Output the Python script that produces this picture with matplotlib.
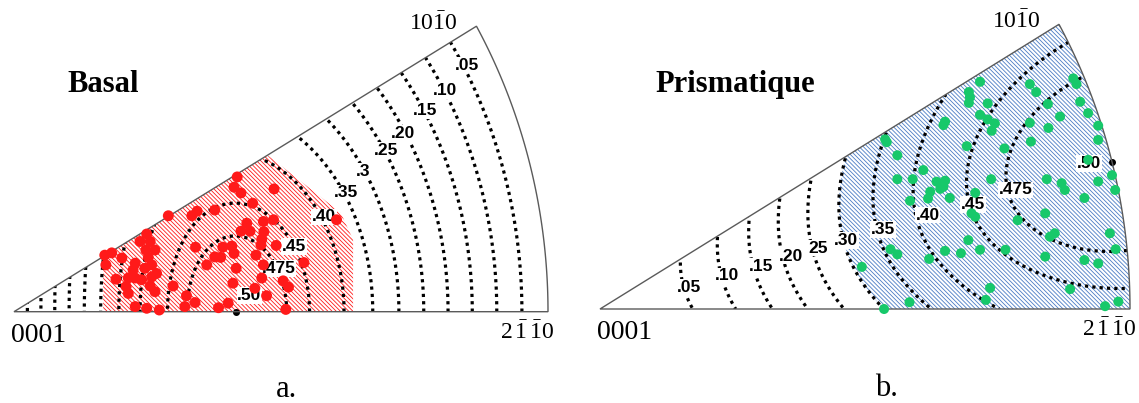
import numpy as np
import matplotlib
matplotlib.use("Agg")
import matplotlib.pyplot as plt
from matplotlib.patches import Polygon, PathPatch
from matplotlib.path import Path

plt.rcParams['mathtext.fontset'] = 'custom'
plt.rcParams['mathtext.rm'] = 'Liberation Serif'
plt.rcParams['mathtext.it'] = 'Liberation Serif:italic'
plt.rcParams['mathtext.bf'] = 'Liberation Serif:bold'
plt.rcParams['hatch.linewidth'] = 0.6

# ---------------- data ----------------
# Schmid factor contour levels
basal_levels = [0.05, 0.10, 0.15, 0.20, 0.25, 0.30, 0.35, 0.40, 0.45, 0.475]
prism_levels = [0.05, 0.10, 0.15, 0.20, 0.25, 0.30, 0.35, 0.40, 0.45, 0.475]
basal_labels = ['.05', '.10', '.15', '.20', '.25', '.3', '.35', '.40', '.45', '.475', '.50']
prism_labels = ['.05', '.10', '.15', '.20', '25', '.30', '.35', '.40', '.45', '.475', '.50']
prism_hatch_min = 0.30

# grains (stereographic IPF coordinates, unit radius)
red_x = [0.289, 0.2485, 0.236, 0.255, 0.264, 0.247, 0.183, 0.170, 0.172, 0.202, 0.2515,
         0.227, 0.258, 0.223, 0.245, 0.267, 0.191, 0.214, 0.227, 0.239, 0.258, 0.255,
         0.264, 0.214, 0.210, 0.298, 0.323, 0.227, 0.2485, 0.272, 0.320,
         0.418, 0.412, 0.425, 0.487, 0.447, 0.376, 0.343, 0.333, 0.436, 0.467, 0.486,
         0.604, 0.425, 0.442, 0.468, 0.464, 0.4625, 0.491, 0.340, 0.391, 0.408, 0.376,
         0.387, 0.412, 0.453, 0.361, 0.416, 0.467, 0.543, 0.464, 0.410, 0.504, 0.451,
         0.473, 0.514, 0.339, 0.401, 0.383, 0.509]
red_y = [0.168, 0.136, 0.123, 0.123, 0.108, 0.108, 0.103, 0.099, 0.082, 0.094, 0.095,
         0.085, 0.082, 0.073, 0.076, 0.067, 0.057, 0.059, 0.059, 0.056, 0.061, 0.045,
         0.035, 0.032, 0.044, 0.045, 0.028, 0.009, 0.006, 0.003, 0.009,
         0.236, 0.218, 0.208, 0.215, 0.190, 0.178, 0.176, 0.168, 0.155, 0.158, 0.161,
         0.161, 0.141, 0.141, 0.140, 0.127, 0.117, 0.116, 0.113, 0.113, 0.115, 0.096,
         0.095, 0.102, 0.099, 0.082, 0.076, 0.082, 0.086, 0.059, 0.050, 0.054, 0.041,
         0.028, 0.043, 0.016, 0.015, 0.007, 0.004]

green_x = [0.696, 0.698, 0.696, 0.651, 0.648, 0.538, 0.541, 0.692, 0.561, 0.610, 0.561,
           0.590, 0.635, 0.651, 0.648, 0.717, 0.7315, 0.717, 0.7315, 0.745, 0.739, 0.763,
           0.811, 0.823, 0.845, 0.893, 0.899, 0.906, 0.921, 0.868, 0.811, 0.846, 0.813,
           0.940, 0.921, 0.738, 0.843, 0.871, 0.623, 0.642, 0.619, 0.660, 0.585, 0.695,
           0.651, 0.681, 0.621, 0.548, 0.561, 0.494, 0.584, 0.536, 0.708, 0.701, 0.708,
           0.877, 0.914, 0.840, 0.788, 0.849, 0.858, 0.717, 0.765, 0.840, 0.914, 0.940,
           0.736, 0.728, 0.887, 0.940, 0.966, 0.940, 0.972, 0.962, 0.973, 0.978, 0.953]
green_y = [0.381, 0.372, 0.362, 0.329, 0.323, 0.298, 0.293, 0.286, 0.270, 0.244, 0.228,
           0.228, 0.2236, 0.2253, 0.2148, 0.399, 0.361, 0.341, 0.333, 0.326, 0.313, 0.282,
           0.395, 0.381, 0.360, 0.405, 0.395, 0.364, 0.344, 0.338, 0.327, 0.318, 0.294,
           0.297, 0.262, 0.228, 0.228, 0.221, 0.206, 0.211, 0.194, 0.195, 0.190, 0.121,
           0.102, 0.098, 0.088, 0.105, 0.096, 0.074, 0.012, 0.0, 0.204, 0.168, 0.162,
           0.209, 0.195, 0.168, 0.156, 0.127, 0.133, 0.104, 0.104, 0.092, 0.086, 0.080,
           0.037, 0.016, 0.035, 0.322, 0.235, 0.224, 0.209, 0.133, 0.105, 0.013, 0.005]

# outline of the basal hatched zone
basal_hatch_x = [0.167, 0.167, 0.475, 0.558, 0.612, 0.635, 0.635]
basal_hatch_y = [0.0, 0.0964, 0.274, 0.213, 0.173, 0.126, 0.0]

# ---------------- layout / style ----------------
W, H = 1139, 403
fig = plt.figure(figsize=(W / 100, H / 100), dpi=100)

RED = '#ff1a1a'
GREEN = '#17c86a'
BLUE = '#4a7cc4'
OUTLINE = '#5a5a5a'
DOTS = (0, (1, 1.3))
HATCH = '\\' * 8

basal_label_pos = ([0.848, 0.807, 0.770, 0.728, 0.696, 0.653, 0.622, 0.580, 0.525, 0.495, 0.441],
                   [0.432, 0.387, 0.352, 0.312, 0.283, 0.245, 0.208, 0.166, 0.114, 0.076, 0.028])
prism_label_pos = ([0.168, 0.240, 0.304, 0.361, 0.412, 0.464, 0.534, 0.618, 0.703, 0.784, 0.923],
                   [0.038, 0.058, 0.074, 0.093, 0.107, 0.120, 0.140, 0.165, 0.184, 0.209, 0.256])


def make_axes(apex_px, sx, sy):
    x0, x1, y0, y1 = -0.03, 1.03, -0.03, 0.53
    left = apex_px[0] + x0 * sx
    ax = fig.add_axes([left / W, (H - (apex_px[1] - y0 * sy)) / H,
                       (x1 - x0) * sx / W, (y1 - y0) * sy / H])
    ax.set_xlim(x0, x1)
    ax.set_ylim(y0, y1)
    ax.set_axis_off()
    return ax


def sector(ax):
    t = np.linspace(0, np.pi / 6, 200)
    verts = [(0, 0)] + list(zip(np.cos(t), np.sin(t))) + [(0, 0)]
    p = PathPatch(Path(verts, closed=True), facecolor='none', edgecolor=OUTLINE,
                  lw=1.0, zorder=2.5, transform=ax.transData)
    ax.add_patch(p)
    return p


def grid():
    xs = np.linspace(0, 1.0, 700)
    ys = np.linspace(0, 0.52, 380)
    X, Y = np.meshgrid(xs, ys)
    r = np.hypot(X, Y)
    phi = np.arctan2(Y, X)
    theta = 2 * np.arctan(r)
    return X, Y, theta, phi


def dotted_contours(ax, X, Y, M, levels, clip):
    cs = ax.contour(X, Y, M, levels=levels, colors='black', linewidths=2.3,
                    linestyles=[DOTS], zorder=2)
    cs.set_clip_path(clip)


def add_labels(ax, labels, pos):
    for s, x, y in zip(labels, pos[0], pos[1]):
        ax.text(x, y, s, fontsize=12.5, fontweight='bold', family='Liberation Sans',
                ha='center', va='center', zorder=3,
                bbox=dict(facecolor='white', edgecolor='none', pad=0.6))


def corner_labels(ax, title, sub, title_pos, sub_pos):
    ax.text(0.046, -0.041, '0001', fontsize=20, family='Liberation Serif',
            ha='center', va='center')
    ax.text(0.785, 0.505, r'$\mathrm{10\bar{1}0}$', fontsize=17,
            ha='center', va='center')
    ax.text(0.96, -0.036, r'$\mathrm{2\,\bar{1}\,\bar{1}0}$', fontsize=17,
            ha='center', va='center')
    ax.text(title_pos[0], title_pos[1], title, fontsize=22, fontweight='bold',
            family='Liberation Serif', ha='center', va='center')
    ax.text(sub_pos[0], sub_pos[1], sub, fontsize=22, family='Liberation Serif',
            ha='center', va='center')


# ---------------- (a) basal ----------------
axa = make_axes((14, 311.7), 534, 571)
clip_a = sector(axa)
X, Y, th, ph = grid()
m_basal = np.cos(th) * np.sin(th) * np.cos(ph)

hatch_a = Polygon(np.column_stack([basal_hatch_x, basal_hatch_y]), closed=True,
                  facecolor='none', edgecolor=RED, lw=0, hatch=HATCH, zorder=1)
axa.add_patch(hatch_a)
hatch_a.set_clip_path(clip_a)
dotted_contours(axa, X, Y, m_basal, basal_levels, clip_a)
imax = np.unravel_index(np.argmax(np.where(np.hypot(X, Y) <= 1, m_basal, -1)), m_basal.shape)
axa.scatter([X[imax]], [0], s=16, c='black', marker='o', zorder=2)
add_labels(axa, basal_labels, basal_label_pos)
axa.scatter(red_x, red_y, s=62, c=RED, edgecolors='none', zorder=5, clip_on=False)
corner_labels(axa, 'Basal', 'a.', (0.167, 0.398), (0.511, -0.136))

# ---------------- (b) prismatic ----------------
axb = make_axes((600, 309), 530, 569.4)
clip_b = sector(axb)
fac = np.max(np.abs(np.stack([np.sin(2 * ph - np.pi / 3), np.sin(2 * ph + np.pi / 3),
                              np.sin(2 * ph)])), axis=0)
m_prism = np.sin(th) ** 2 * fac / 2

cf = axb.contourf(X, Y, m_prism, levels=[prism_hatch_min, 1.0])
paths = cf.get_paths()
cf.remove()
for p in paths:
    if len(p.vertices) == 0:
        continue
    hp = PathPatch(p, facecolor='none', edgecolor=BLUE, lw=0, hatch=HATCH, zorder=1)
    axb.add_patch(hp)
    hp.set_clip_path(clip_b)
dotted_contours(axb, X, Y, m_prism, prism_levels, clip_b)
t15 = np.pi / 12
axb.scatter([np.cos(t15)], [np.sin(t15)], s=16, c='black', marker='o', zorder=2)
add_labels(axb, prism_labels, prism_label_pos)
axb.scatter(green_x, green_y, s=52, c=GREEN, edgecolors='none', zorder=5, clip_on=False)
corner_labels(axb, 'Prismatique', 'b.', (0.255, 0.395), (0.540, -0.139))

fig.savefig('out.png', dpi=100, facecolor='white')
